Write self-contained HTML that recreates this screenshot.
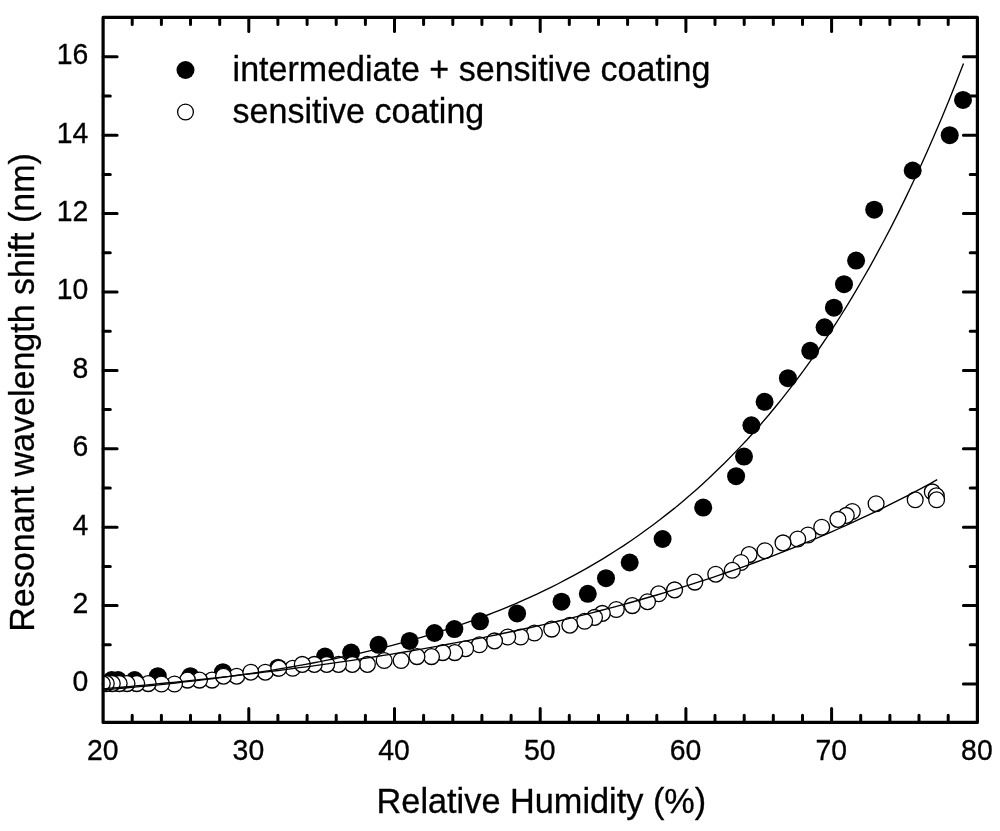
<!DOCTYPE html>
<html lang="en"><head><meta charset="utf-8"><title>Resonant wavelength shift vs Relative Humidity</title>
<style>html,body{margin:0;padding:0;background:#fff}svg{display:block}text{font-family:"Liberation Sans",Arial,sans-serif;fill:#000;stroke:#000;stroke-width:0.3px}</style>
</head><body>
<svg width="1000" height="831" viewBox="0 0 1000 831">
<rect x="0" y="0" width="1000" height="831" fill="#fff"/>
<g stroke="#000" stroke-width="3" stroke-linecap="round">
<path d="M132.2,722.4v-7.2 M132.2,17.4v7.2"/>
<path d="M161.4,722.4v-7.2 M161.4,17.4v7.2"/>
<path d="M190.5,722.4v-7.2 M190.5,17.4v7.2"/>
<path d="M219.7,722.4v-7.2 M219.7,17.4v7.2"/>
<path d="M248.8,722.4v-14.0 M248.8,17.4v14.0"/>
<path d="M277.9,722.4v-7.2 M277.9,17.4v7.2"/>
<path d="M307.1,722.4v-7.2 M307.1,17.4v7.2"/>
<path d="M336.2,722.4v-7.2 M336.2,17.4v7.2"/>
<path d="M365.4,722.4v-7.2 M365.4,17.4v7.2"/>
<path d="M394.5,722.4v-14.0 M394.5,17.4v14.0"/>
<path d="M423.6,722.4v-7.2 M423.6,17.4v7.2"/>
<path d="M452.8,722.4v-7.2 M452.8,17.4v7.2"/>
<path d="M481.9,722.4v-7.2 M481.9,17.4v7.2"/>
<path d="M511.1,722.4v-7.2 M511.1,17.4v7.2"/>
<path d="M540.2,722.4v-14.0 M540.2,17.4v14.0"/>
<path d="M569.3,722.4v-7.2 M569.3,17.4v7.2"/>
<path d="M598.5,722.4v-7.2 M598.5,17.4v7.2"/>
<path d="M627.6,722.4v-7.2 M627.6,17.4v7.2"/>
<path d="M656.8,722.4v-7.2 M656.8,17.4v7.2"/>
<path d="M685.9,722.4v-14.0 M685.9,17.4v14.0"/>
<path d="M715.0,722.4v-7.2 M715.0,17.4v7.2"/>
<path d="M744.2,722.4v-7.2 M744.2,17.4v7.2"/>
<path d="M773.3,722.4v-7.2 M773.3,17.4v7.2"/>
<path d="M802.5,722.4v-7.2 M802.5,17.4v7.2"/>
<path d="M831.6,722.4v-14.0 M831.6,17.4v14.0"/>
<path d="M860.7,722.4v-7.2 M860.7,17.4v7.2"/>
<path d="M889.9,722.4v-7.2 M889.9,17.4v7.2"/>
<path d="M919.0,722.4v-7.2 M919.0,17.4v7.2"/>
<path d="M948.2,722.4v-7.2 M948.2,17.4v7.2"/>
<path d="M103.1,684.0h14.0 M977.4,684.0h-14.0"/>
<path d="M103.1,644.8h7.2 M977.4,644.8h-7.2"/>
<path d="M103.1,605.6h14.0 M977.4,605.6h-14.0"/>
<path d="M103.1,566.4h7.2 M977.4,566.4h-7.2"/>
<path d="M103.1,527.2h14.0 M977.4,527.2h-14.0"/>
<path d="M103.1,488.0h7.2 M977.4,488.0h-7.2"/>
<path d="M103.1,448.8h14.0 M977.4,448.8h-14.0"/>
<path d="M103.1,409.6h7.2 M977.4,409.6h-7.2"/>
<path d="M103.1,370.4h14.0 M977.4,370.4h-14.0"/>
<path d="M103.1,331.2h7.2 M977.4,331.2h-7.2"/>
<path d="M103.1,292.0h14.0 M977.4,292.0h-14.0"/>
<path d="M103.1,252.8h7.2 M977.4,252.8h-7.2"/>
<path d="M103.1,213.6h14.0 M977.4,213.6h-14.0"/>
<path d="M103.1,174.4h7.2 M977.4,174.4h-7.2"/>
<path d="M103.1,135.2h14.0 M977.4,135.2h-14.0"/>
<path d="M103.1,96.0h7.2 M977.4,96.0h-7.2"/>
<path d="M103.1,56.8h14.0 M977.4,56.8h-14.0"/>
</g>
<defs><clipPath id="plot"><rect x="103.1" y="17.4" width="874.3" height="705.0"/></clipPath></defs>
<g clip-path="url(#plot)">
<g fill="#000" stroke="none">
<circle cx="111.7" cy="680.1" r="9"/>
<circle cx="118.1" cy="680.1" r="9"/>
<circle cx="134.6" cy="680.1" r="9"/>
<circle cx="157.8" cy="676.2" r="9"/>
<circle cx="190.4" cy="676.2" r="9"/>
<circle cx="222.9" cy="672.2" r="9"/>
<circle cx="278.0" cy="667.7" r="9"/>
<circle cx="325.0" cy="656.6" r="9"/>
<circle cx="351.1" cy="652.6" r="9"/>
<circle cx="378.5" cy="644.8" r="9"/>
<circle cx="409.6" cy="640.9" r="9"/>
<circle cx="434.5" cy="633.0" r="9"/>
<circle cx="454.4" cy="629.1" r="9"/>
<circle cx="480.0" cy="621.3" r="9"/>
<circle cx="517.1" cy="613.4" r="9"/>
<circle cx="561.5" cy="601.7" r="9"/>
<circle cx="587.8" cy="593.8" r="9"/>
<circle cx="606.0" cy="578.2" r="9"/>
<circle cx="629.7" cy="562.5" r="9"/>
<circle cx="662.6" cy="539.0" r="9"/>
<circle cx="703.2" cy="507.6" r="9"/>
<circle cx="736.1" cy="476.2" r="9"/>
<circle cx="744.0" cy="456.6" r="9"/>
<circle cx="751.4" cy="425.3" r="9"/>
<circle cx="764.6" cy="401.8" r="9"/>
<circle cx="787.9" cy="378.2" r="9"/>
<circle cx="810.2" cy="350.8" r="9"/>
<circle cx="824.6" cy="327.3" r="9"/>
<circle cx="833.9" cy="307.7" r="9"/>
<circle cx="844.0" cy="284.2" r="9"/>
<circle cx="856.1" cy="260.6" r="9"/>
<circle cx="874.2" cy="209.7" r="9"/>
<circle cx="912.7" cy="170.5" r="9"/>
<circle cx="949.7" cy="135.2" r="9"/>
<circle cx="963.0" cy="99.9" r="9"/>
</g>
<g fill="#fff" stroke="#000" stroke-width="1.3">
<circle cx="915.2" cy="499.8" r="7.9"/>
<circle cx="876.1" cy="503.7" r="7.9"/>
<circle cx="852.3" cy="511.5" r="7.9"/>
<circle cx="846.3" cy="515.4" r="7.9"/>
<circle cx="837.9" cy="519.4" r="7.9"/>
<circle cx="821.7" cy="527.2" r="7.9"/>
<circle cx="808.0" cy="535.0" r="7.9"/>
<circle cx="797.7" cy="539.0" r="7.9"/>
<circle cx="783.0" cy="542.9" r="7.9"/>
<circle cx="765.0" cy="550.7" r="7.9"/>
<circle cx="749.1" cy="554.6" r="7.9"/>
<circle cx="740.9" cy="562.5" r="7.9"/>
<circle cx="732.3" cy="570.3" r="7.9"/>
<circle cx="715.7" cy="574.2" r="7.9"/>
<circle cx="694.8" cy="582.1" r="7.9"/>
<circle cx="674.6" cy="589.9" r="7.9"/>
<circle cx="658.7" cy="593.8" r="7.9"/>
<circle cx="647.5" cy="601.7" r="7.9"/>
<circle cx="632.3" cy="605.6" r="7.9"/>
<circle cx="616.3" cy="609.5" r="7.9"/>
<circle cx="602.3" cy="613.4" r="7.9"/>
<circle cx="594.5" cy="617.4" r="7.9"/>
<circle cx="584.6" cy="621.3" r="7.9"/>
<circle cx="569.8" cy="625.2" r="7.9"/>
<circle cx="551.7" cy="629.1" r="7.9"/>
<circle cx="534.4" cy="633.0" r="7.9"/>
<circle cx="520.7" cy="637.0" r="7.9"/>
<circle cx="507.7" cy="637.0" r="7.9"/>
<circle cx="494.5" cy="640.9" r="7.9"/>
<circle cx="479.4" cy="644.8" r="7.9"/>
<circle cx="465.6" cy="648.7" r="7.9"/>
<circle cx="454.8" cy="652.6" r="7.9"/>
<circle cx="442.7" cy="652.6" r="7.9"/>
<circle cx="431.5" cy="656.6" r="7.9"/>
<circle cx="417.0" cy="656.6" r="7.9"/>
<circle cx="401.1" cy="660.5" r="7.9"/>
<circle cx="384.2" cy="660.5" r="7.9"/>
<circle cx="367.4" cy="664.4" r="7.9"/>
<circle cx="352.3" cy="664.4" r="7.9"/>
<circle cx="338.5" cy="664.4" r="7.9"/>
<circle cx="326.7" cy="664.4" r="7.9"/>
<circle cx="314.3" cy="664.4" r="7.9"/>
<circle cx="292.7" cy="668.3" r="7.9"/>
<circle cx="265.3" cy="672.2" r="7.9"/>
<circle cx="236.7" cy="676.2" r="7.9"/>
<circle cx="212.0" cy="680.1" r="7.9"/>
<circle cx="199.5" cy="680.1" r="7.9"/>
<circle cx="187.5" cy="680.1" r="7.9"/>
<circle cx="174.5" cy="684.0" r="7.9"/>
<circle cx="161.5" cy="684.0" r="7.9"/>
<circle cx="148.2" cy="683.6" r="7.9"/>
<circle cx="136.7" cy="683.6" r="7.9"/>
<circle cx="127.0" cy="683.6" r="7.9"/>
<circle cx="119.2" cy="683.6" r="7.9"/>
<circle cx="112.3" cy="683.6" r="7.9"/>
<circle cx="106.3" cy="683.6" r="7.9"/>
<circle cx="102.3" cy="683.6" r="7.9"/>
<circle cx="223.5" cy="676.2" r="7.9"/>
<circle cx="250.8" cy="672.2" r="7.9"/>
<circle cx="278.8" cy="668.3" r="7.9"/>
<circle cx="302.3" cy="664.4" r="7.9"/>
<circle cx="932.3" cy="491.9" r="7.9"/>
<circle cx="936.3" cy="495.8" r="7.9"/>
<circle cx="936.6" cy="499.8" r="7.9"/>
</g>
<g fill="none" stroke="#000" stroke-width="1.35">
<path d="M103.1,689.9 L110.3,689.3 L117.6,688.7 L124.8,688.0 L132.0,687.4 L139.2,686.7 L146.5,686.0 L153.7,685.3 L160.9,684.6 L168.2,683.8 L175.4,683.0 L182.6,682.2 L189.9,681.4 L197.1,680.6 L204.3,679.7 L211.5,678.8 L218.8,677.9 L226.0,676.9 L233.2,675.9 L240.5,674.9 L247.7,673.9 L254.9,672.8 L262.2,671.7 L269.4,670.6 L276.6,669.4 L283.8,668.2 L291.1,667.0 L298.3,665.7 L305.5,664.4 L312.8,663.0 L320.0,661.7 L327.2,660.2 L334.5,658.8 L341.7,657.2 L348.9,655.7 L356.1,654.1 L363.4,652.4 L370.6,650.7 L377.8,649.0 L385.1,647.1 L392.3,645.3 L399.5,643.4 L406.8,641.4 L414.0,639.4 L421.2,637.3 L428.4,635.1 L435.7,632.9 L442.9,630.6 L450.1,628.3 L457.4,625.9 L464.6,623.4 L471.8,620.8 L479.1,618.2 L486.3,615.5 L493.5,612.7 L500.7,609.8 L508.0,606.8 L515.2,603.8 L522.4,600.6 L529.7,597.4 L536.9,594.1 L544.1,590.6 L551.4,587.1 L558.6,583.5 L565.8,579.7 L573.0,575.9 L580.3,571.9 L587.5,567.8 L594.7,563.6 L602.0,559.3 L609.2,554.9 L616.4,550.3 L623.7,545.6 L630.9,540.7 L638.1,535.7 L645.3,530.5 L652.6,525.2 L659.8,519.8 L667.0,514.1 L674.3,508.4 L681.5,502.4 L688.7,496.3 L696.0,489.9 L703.2,483.4 L710.4,476.7 L717.6,469.8 L724.9,462.8 L732.1,455.4 L739.3,447.9 L746.6,440.2 L753.8,432.2 L761.0,424.0 L768.3,415.5 L775.5,406.8 L782.7,397.9 L789.9,388.7 L797.2,379.2 L804.4,369.4 L811.6,359.3 L818.9,349.0 L826.1,338.3 L833.3,327.3 L840.6,316.0 L847.8,304.4 L855.0,292.4 L862.2,280.0 L869.5,267.3 L876.7,254.2 L883.9,240.8 L891.2,226.9 L898.4,212.6 L905.6,197.9 L912.8,182.8 L920.1,167.2 L927.3,151.2 L934.5,134.7 L941.8,117.7 L949.0,100.2 L956.2,82.2 L963.5,63.6"/>
<path d="M103.1,688.9 L110.1,688.2 L117.1,687.6 L124.1,687.0 L131.1,686.4 L138.1,685.7 L145.2,685.1 L152.2,684.4 L159.2,683.7 L166.2,683.0 L173.2,682.3 L180.2,681.6 L187.2,680.9 L194.2,680.2 L201.2,679.4 L208.2,678.7 L215.3,677.9 L222.3,677.1 L229.3,676.4 L236.3,675.5 L243.3,674.7 L250.3,673.9 L257.3,673.1 L264.3,672.2 L271.3,671.3 L278.3,670.5 L285.3,669.6 L292.4,668.6 L299.4,667.7 L306.4,666.8 L313.4,665.8 L320.4,664.9 L327.4,663.9 L334.4,662.9 L341.4,661.9 L348.4,660.8 L355.4,659.8 L362.5,658.7 L369.5,657.6 L376.5,656.5 L383.5,655.4 L390.5,654.3 L397.5,653.1 L404.5,652.0 L411.5,650.8 L418.5,649.6 L425.5,648.3 L432.5,647.1 L439.6,645.8 L446.6,644.5 L453.6,643.2 L460.6,641.9 L467.6,640.6 L474.6,639.2 L481.6,637.8 L488.6,636.4 L495.6,635.0 L502.6,633.5 L509.7,632.0 L516.7,630.5 L523.7,629.0 L530.7,627.5 L537.7,625.9 L544.7,624.3 L551.7,622.7 L558.7,621.0 L565.7,619.3 L572.7,617.6 L579.7,615.9 L586.8,614.1 L593.8,612.3 L600.8,610.5 L607.8,608.7 L614.8,606.8 L621.8,604.9 L628.8,603.0 L635.8,601.0 L642.8,599.0 L649.8,597.0 L656.9,595.0 L663.9,592.9 L670.9,590.7 L677.9,588.6 L684.9,586.4 L691.9,584.2 L698.9,581.9 L705.9,579.6 L712.9,577.3 L719.9,574.9 L726.9,572.5 L734.0,570.1 L741.0,567.6 L748.0,565.1 L755.0,562.5 L762.0,559.9 L769.0,557.3 L776.0,554.6 L783.0,551.9 L790.0,549.1 L797.0,546.3 L804.1,543.4 L811.1,540.5 L818.1,537.6 L825.1,534.6 L832.1,531.6 L839.1,528.5 L846.1,525.3 L853.1,522.1 L860.1,518.9 L867.1,515.6 L874.1,512.3 L881.2,508.9 L888.2,505.4 L895.2,501.9 L902.2,498.4 L909.2,494.8 L916.2,491.1 L923.2,487.4 L930.2,483.6 L937.2,479.7"/>
</g>
</g>
<rect x="103.1" y="17.4" width="874.3" height="705.0" fill="none" stroke="#000" stroke-width="3.2" stroke-linejoin="round"/>
<text transform="translate(102.7,760.1) scale(1,1.045)" font-size="28.4" text-anchor="middle">20</text>
<text transform="translate(248.4,760.1) scale(1,1.045)" font-size="28.4" text-anchor="middle">30</text>
<text transform="translate(394.1,760.1) scale(1,1.045)" font-size="28.4" text-anchor="middle">40</text>
<text transform="translate(539.8,760.1) scale(1,1.045)" font-size="28.4" text-anchor="middle">50</text>
<text transform="translate(685.5,760.1) scale(1,1.045)" font-size="28.4" text-anchor="middle">60</text>
<text transform="translate(831.2,760.1) scale(1,1.045)" font-size="28.4" text-anchor="middle">70</text>
<text transform="translate(976.9,760.1) scale(1,1.045)" font-size="28.4" text-anchor="middle">80</text>
<text transform="translate(88.3,691.4) scale(1,1.045)" font-size="28.4" text-anchor="end">0</text>
<text transform="translate(88.3,613.0) scale(1,1.045)" font-size="28.4" text-anchor="end">2</text>
<text transform="translate(88.3,534.6) scale(1,1.045)" font-size="28.4" text-anchor="end">4</text>
<text transform="translate(88.3,456.2) scale(1,1.045)" font-size="28.4" text-anchor="end">6</text>
<text transform="translate(88.3,377.8) scale(1,1.045)" font-size="28.4" text-anchor="end">8</text>
<text transform="translate(88.3,299.4) scale(1,1.045)" font-size="28.4" text-anchor="end">10</text>
<text transform="translate(88.3,221.0) scale(1,1.045)" font-size="28.4" text-anchor="end">12</text>
<text transform="translate(88.3,142.6) scale(1,1.045)" font-size="28.4" text-anchor="end">14</text>
<text transform="translate(88.3,64.2) scale(1,1.045)" font-size="28.4" text-anchor="end">16</text>
<text transform="translate(541.4,813.0) scale(1,1.045)" font-size="34.3" text-anchor="middle">Relative Humidity (%)</text>
<text transform="translate(33.7,392.4) rotate(-90) scale(1,1.045)" font-size="34.05" text-anchor="middle">Resonant wavelength shift (nm)</text>
<circle cx="185.5" cy="70" r="9" fill="#000"/>
<circle cx="185.5" cy="112" r="7.9" fill="#fff" stroke="#000" stroke-width="1.3"/>
<text transform="translate(232.6,81.2) scale(1,1.045)" font-size="34.05" text-anchor="start">intermediate + sensitive coating</text>
<text transform="translate(232.6,122.5) scale(1,1.045)" font-size="34.05" text-anchor="start">sensitive coating</text>
</svg>
</body></html>
